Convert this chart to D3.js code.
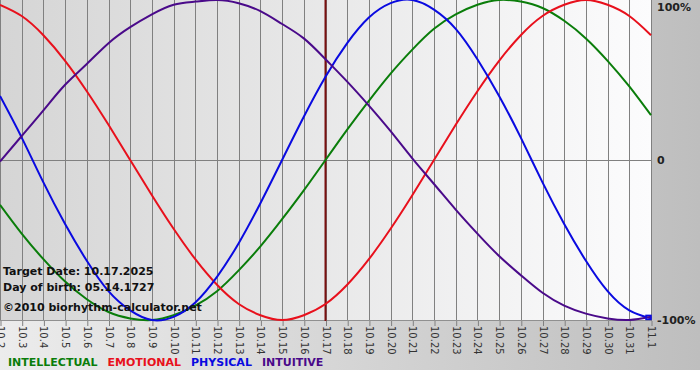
<!DOCTYPE html>
<html>
<head>
    <title>Biorhythm</title>
    <script src="https://d3js.org/d3.v7.min.js"></script>
    <style>
        body { margin: 0; background: #fff; }
        svg { display: block; font-family: "DejaVu Sans", Verdana, sans-serif; }
    </style>
</head>
<body>
    <svg id="chart"></svg>
    <script>
        const width = 700;
        const height = 380;

        // days shown on the axis (month.day)
        const days = ["10.2", "10.3", "10.4", "10.5", "10.6", "10.7", "10.8", "10.9", "10.10", "10.11",
            "10.12", "10.13", "10.14", "10.15", "10.16", "10.17", "10.18", "10.19", "10.20", "10.21",
            "10.22", "10.23", "10.24", "10.25", "10.26", "10.27", "10.28", "10.29", "10.30", "10.31", "11.1"];

        // values, -1 .. 1
        const physical = [0.40, 0.14, -0.14, -0.40, -0.63, -0.82, -0.94, -1.00, -0.98, -0.89,
            -0.73, -0.52, -0.27, 0.00, 0.27, 0.52, 0.73, 0.89, 0.98, 1.00,
            0.94, 0.82, 0.63, 0.40, 0.14, -0.14, -0.40, -0.63, -0.82, -0.94, -0.99];
        const emotional = [0.97, 0.90, 0.78, 0.62, 0.43, 0.22, 0.00, -0.22, -0.43, -0.62,
            -0.78, -0.90, -0.97, -1.00, -0.97, -0.90, -0.78, -0.62, -0.43, -0.22,
            0.00, 0.22, 0.43, 0.62, 0.78, 0.90, 0.97, 1.00, 0.97, 0.90, 0.78];
        const intellectual = [-0.28, -0.46, -0.62, -0.76, -0.87, -0.95, -0.99, -1.00, -0.97, -0.91,
            -0.82, -0.69, -0.54, -0.37, -0.19, 0.00, 0.19, 0.37, 0.54, 0.69,
            0.82, 0.91, 0.97, 1.00, 0.99, 0.95, 0.87, 0.76, 0.62, 0.46, 0.28];
        const intuitive = [-0.01, 0.15, 0.31, 0.47, 0.60, 0.73, 0.83, 0.91, 0.97, 0.99,
            1.00, 0.98, 0.93, 0.85, 0.76, 0.63, 0.49, 0.34, 0.18, 0.01,
            -0.15, -0.31, -0.46, -0.60, -0.72, -0.83, -0.91, -0.96, -0.99, -1.00, -0.98];

        const yTicks = [1, 0, -1];
        const yTickLabels = ["100%", "0", "-100%"];

        const targetDay = "10.17";
        const infoLines = ["Target Date: 10.17.2025", "Day of birth: 05.14.1727"];
        const copyright = "\u00a92010 biorhythm-calculator.net";

        const series = [
            { name: "INTELLECTUAL", values: intellectual, color: "#0a7d0a" },
            { name: "EMOTIONAL", values: emotional, color: "#e8101c" },
            { name: "PHYSICAL", values: physical, color: "#0a0ae0" },
            { name: "INTUITIVE", values: intuitive, color: "#4a0a8a" }
        ];

        const plotW = 651;
        const plotH = 320;

        const svg = d3.select("#chart")
            .attr("width", width)
            .attr("height", 370);

        const defs = svg.append("defs");
        const bgGrad = defs.append("linearGradient").attr("id", "bgGrad");
        bgGrad.append("stop").attr("offset", "0%").attr("stop-color", "#ececec");
        bgGrad.append("stop").attr("offset", "100%").attr("stop-color", "#bebebe");
        const plotGrad = defs.append("linearGradient").attr("id", "plotGrad");
        plotGrad.append("stop").attr("offset", "0%").attr("stop-color", "#d5d5d5");
        plotGrad.append("stop").attr("offset", "100%").attr("stop-color", "#fcfcfd");

        svg.append("rect")
            .attr("width", width)
            .attr("height", 370)
            .attr("fill", "url(#bgGrad)");

        const x = d3.scaleLinear()
            .domain([0, days.length - 1])
            .range([0, plotW]);

        const y = d3.scaleLinear()
            .domain([-1, 1])
            .range([plotH, 0]);

        svg.append("rect")
            .attr("width", plotW)
            .attr("height", plotH + 1)
            .attr("fill", "url(#plotGrad)");

        // day ticks + labels
        const xAxis = d3.axisBottom(x)
            .tickValues(d3.range(days.length))
            .tickFormat(i => days[i])
            .tickSize(5)
            .tickPadding(3);

        const gx = svg.append("g")
            .attr("transform", `translate(0,${plotH + 1})`)
            .call(xAxis);
        gx.select(".domain").remove();
        gx.selectAll("line").attr("stroke", "#808080").attr("x1", 0.5).attr("x2", 0.5);
        gx.selectAll("text")
            .attr("transform", "rotate(90)")
            .attr("x", 5)
            .attr("y", 0)
            .attr("dy", "0.35em")
            .attr("text-anchor", "start")
            .attr("fill", "#333")
            .style("font-size", "10px")
            .style("font-family", "DejaVu Sans, Verdana, sans-serif");

        // vertical grid
        svg.append("g")
            .selectAll("line")
            .data(d3.range(days.length))
            .enter().append("line")
            .attr("x1", d => Math.round(x(d)) + 0.5)
            .attr("x2", d => Math.round(x(d)) + 0.5)
            .attr("y1", 0)
            .attr("y2", plotH + 1)
            .attr("stroke", "#808080")
            .attr("stroke-width", 1);

        svg.append("line")
            .attr("x1", 0)
            .attr("x2", plotW)
            .attr("y1", Math.round(y(0)) + 0.5)
            .attr("y2", Math.round(y(0)) + 0.5)
            .attr("stroke", "#808080");

        svg.append("line")
            .attr("x1", 0)
            .attr("x2", plotW)
            .attr("y1", plotH + 0.5)
            .attr("y2", plotH + 0.5)
            .attr("stroke", "#909090");

        // right side percent labels
        svg.append("g")
            .selectAll("text")
            .data(yTicks)
            .enter().append("text")
            .attr("x", 657)
            .attr("y", d => Math.min(Math.max(y(d), 7), plotH + 1))
            .attr("dy", "0.35em")
            .attr("fill", "#222")
            .style("font-size", "11px")
            .style("font-weight", "bold")
            .text((d, i) => yTickLabels[i]);

        // target date marker
        const tx = x(days.indexOf(targetDay));
        svg.append("line")
            .attr("x1", tx)
            .attr("x2", tx)
            .attr("y1", 0)
            .attr("y2", plotH + 1)
            .attr("stroke", "#7a1010")
            .attr("stroke-width", 2);

        const line = d3.line()
            .x((d, i) => x(i))
            .y(d => y(d))
            .curve(d3.curveNatural);

        svg.append("g")
            .selectAll("path")
            .data(series)
            .enter().append("path")
            .attr("d", d => line(d.values))
            .attr("fill", "none")
            .attr("stroke", d => d.color)
            .attr("stroke-width", 2);

        // small end marker on physical curve
        svg.append("rect")
            .attr("x", x(days.length - 1) - 5)
            .attr("y", y(physical[physical.length - 1]) - 3)
            .attr("width", 5)
            .attr("height", 4)
            .attr("fill", "none")
            .attr("stroke", "#0a0ae0")
            .attr("stroke-width", 1.5);

        // info text
        svg.append("g")
            .selectAll("text")
            .data(infoLines)
            .enter().append("text")
            .attr("x", 3)
            .attr("y", (d, i) => 275 + i * 16)
            .attr("fill", "#111")
            .style("font-size", "11px")
            .style("font-weight", "bold")
            .text(d => d);

        svg.append("text")
            .attr("x", 3)
            .attr("y", 311)
            .attr("fill", "#111")
            .style("font-size", "11px")
            .style("font-weight", "bold")
            .text(copyright);

        // legend
        let lx = 8;
        series.forEach(s => {
            const t = svg.append("text")
                .attr("x", lx)
                .attr("y", 366)
                .attr("fill", s.color)
                .style("font-size", "11px")
                .style("font-weight", "bold")
                .text(s.name);
            lx += t.node().getComputedTextLength() + 10;
        });
    </script>
</body>
</html>
